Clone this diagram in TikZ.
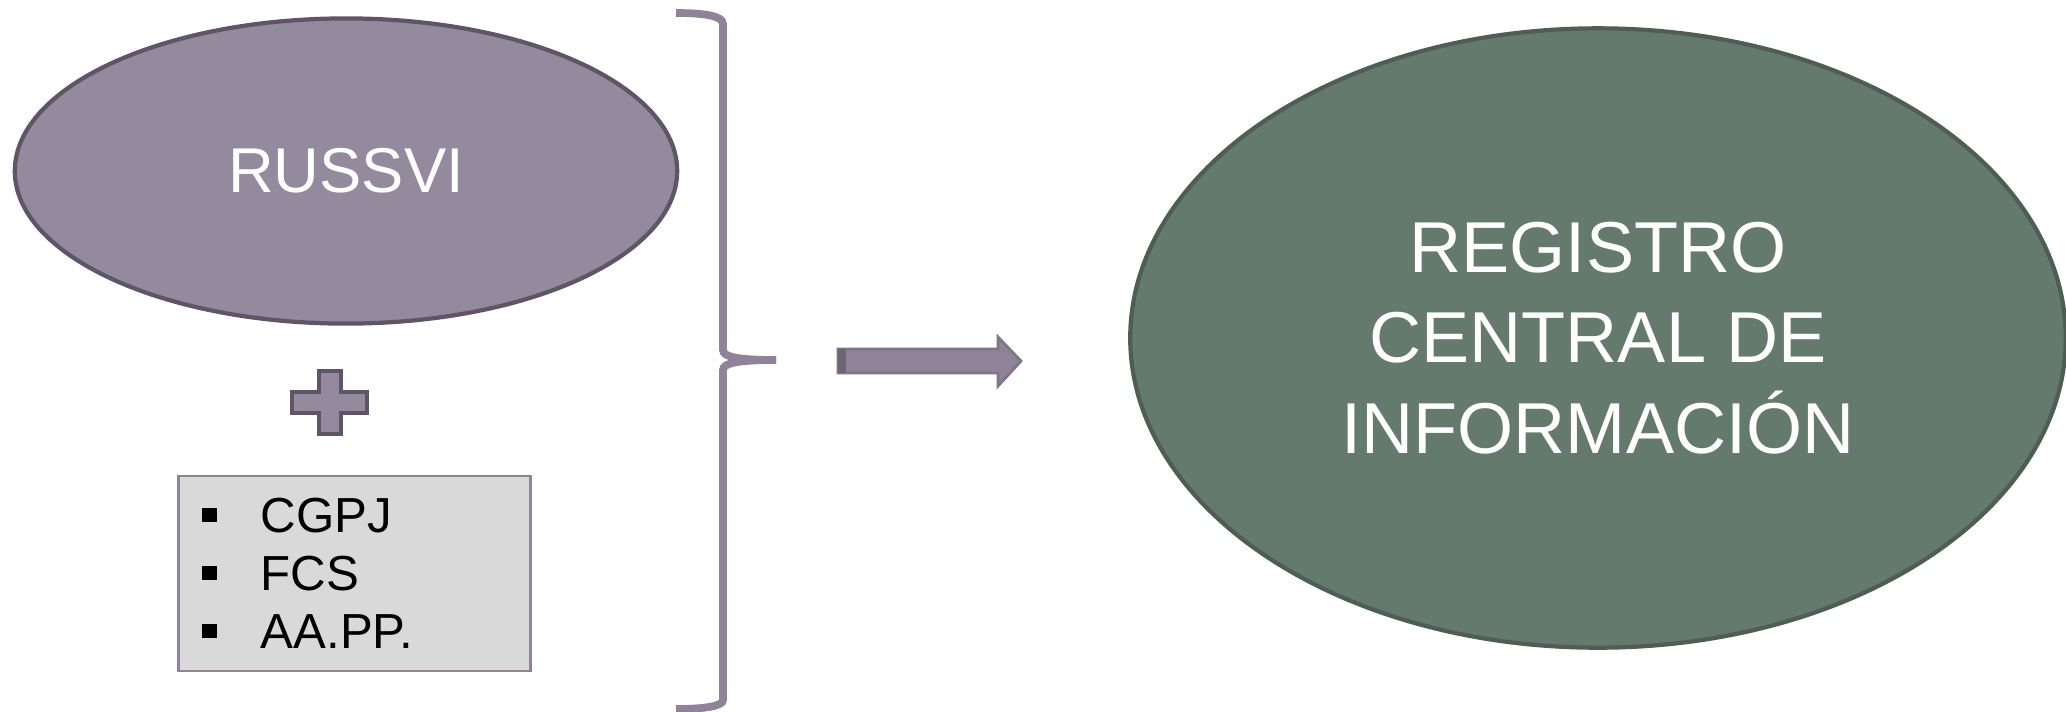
\documentclass[tikz,border=0pt]{standalone}
\usepackage{fontspec}
\setmainfont{Liberation Sans}
\usetikzlibrary{shapes.geometric,positioning}
\definecolor{lilac}{HTML}{948A9E}
\definecolor{lilacdark}{HTML}{5F5566}
\definecolor{lilacline}{HTML}{8F8299}
\definecolor{sage}{HTML}{647A6C}
\definecolor{sagedark}{HTML}{4E5E54}
\definecolor{boxgray}{HTML}{D9D9D9}

\begin{document}
\begin{tikzpicture}[x=0.01cm,y=-0.01cm,
    oval/.style={ellipse,inner sep=0pt,text=white,line width=1.2pt},
    itembox/.style={rectangle,draw=lilacline,fill=boxgray,line width=0.8pt,
        minimum width=3.51cm,minimum height=1.95cm},
    bullet/.style={rectangle,fill=black,inner sep=0pt,minimum size=0.14cm},
    item/.style={anchor=west,inner sep=0pt,font=\fontsize{14}{16}\selectfont},
    brace/.style={draw=lilacline,line width=2.2pt},
    ]
\useasboundingbox (0,0) rectangle (2066,711);

\node[oval,draw=lilacdark,fill=lilac,minimum width=6.62cm,minimum height=3.05cm,
    font=\fontsize{18}{22}\selectfont] (russvi) at (346,171) {RUSSVI};

% plus sign
\draw[fill=lilac,draw=lilacdark,line width=1.2pt]
    (319,371) -- (341,371) -- (341,392) -- (367,392) -- (367,413) -- (341,413)
    -- (341,434) -- (319,434) -- (319,413) -- (292,413) -- (292,392) -- (319,392) -- cycle;

\node[itembox] (lista) at (354.5,573.5) {};
\node[bullet] (b1) at (209.5,515) {};
\node[bullet] (b2) at (209.5,573) {};
\node[bullet] (b3) at (209.5,631) {};
\node[item] (cgpj) at (260,516) {CGPJ};
\node[item] (fcs) at (260,574) {FCS};
\node[item] (aapp) at (260,632) {AA.PP.};

% brace
\draw[brace] (676,13) .. controls (705,13) and (723,16) .. (723,24) -- (723,350)
    .. controls (723,357) and (738,360) .. (776,360);
\draw[brace] (776,360) .. controls (738,360) and (723,363) .. (723,370) -- (723,700)
    .. controls (723,706) and (705,709) .. (676,709);

% arrow
\draw[fill=lilacline,draw=lilacdark!80,line width=0.8pt]
    (838,349) -- (998,349) -- (998,337) -- (1021,361) -- (998,386) -- (998,373) -- (838,373) -- cycle;
\fill[lilacdark!90] (838,349) rectangle (846,373);

\node[oval,draw=sagedark,fill=sage,minimum width=9.35cm,minimum height=6.19cm,
    align=center,font=\fontsize{20.5}{25.8}\selectfont] (registro) at (1598,338)
    {REGISTRO\\CENTRAL DE\\INFORMACIÓN};
\end{tikzpicture}
\end{document}
